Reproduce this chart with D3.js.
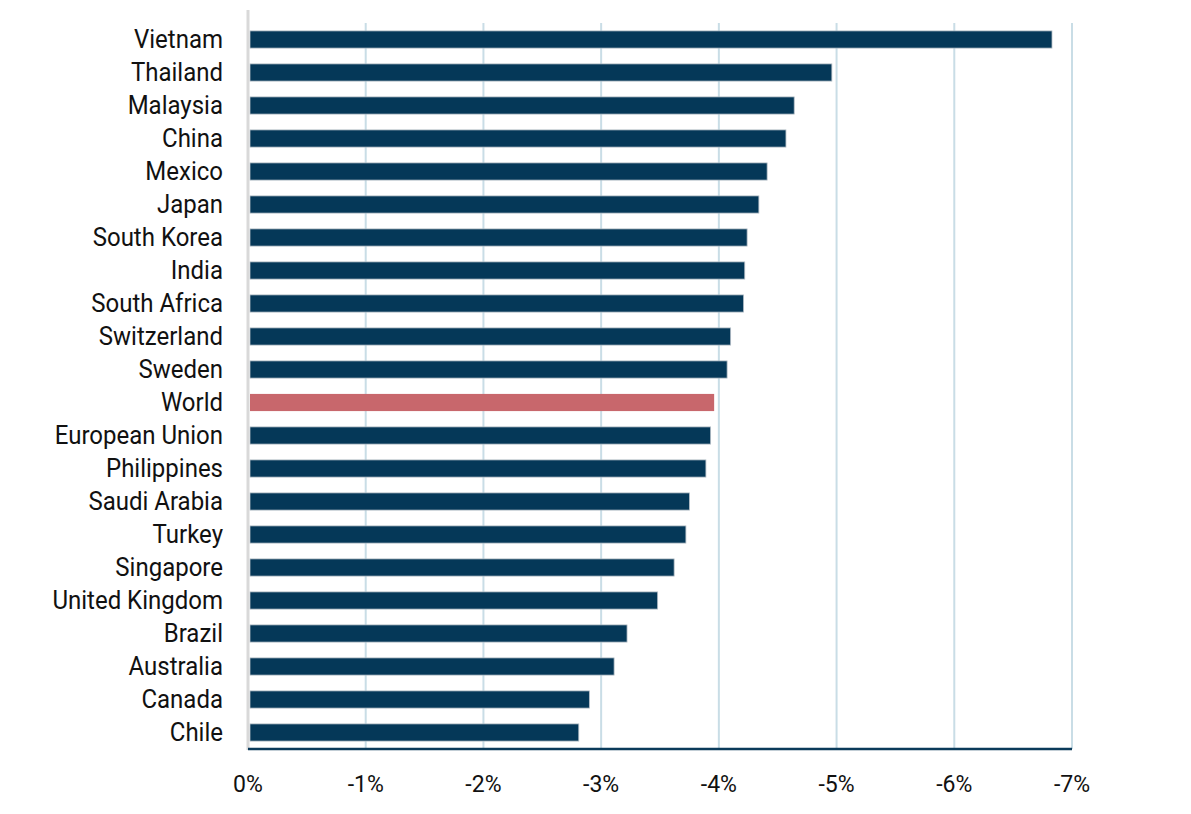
<!DOCTYPE html>
<html>
<head>
<meta charset="utf-8">
<script src="https://cdn.jsdelivr.net/npm/d3@7"></script>
<style>
  body { margin: 0; background: #fff; }
  svg text { font-family: Roboto, "Liberation Sans", sans-serif; fill: #111; }
</style>
</head>
<body>
<svg id="chart" width="1191" height="814"></svg>
<script>
// countries, top to bottom
const countries = ["Vietnam", "Thailand", "Malaysia", "China", "Mexico", "Japan",
  "South Korea", "India", "South Africa", "Switzerland", "Sweden", "World",
  "European Union", "Philippines", "Saudi Arabia", "Turkey", "Singapore",
  "United Kingdom", "Brazil", "Australia", "Canada", "Chile"]
// change in percent
const values = [-6.83, -4.96, -4.64, -4.57, -4.41, -4.34, -4.24, -4.22, -4.21,
  -4.10, -4.07, -3.96, -3.93, -3.89, -3.75, -3.72, -3.62, -3.48, -3.22, -3.11,
  -2.90, -2.81]
const tickValues = [0, -1, -2, -3, -4, -5, -6, -7]

const data = countries.map((c, i) => ({ country: c, value: values[i] }))

const svg = d3.select("#chart")
const plotLeft = 248, plotRight = 1072, plotTop = 23, plotBottom = 749
// the original font is a bit narrower than Roboto
const squeeze = 0.96

// 0 on the left, -7% on the right
const xScale = d3.scaleLinear()
  .domain([0, -7])
  .range([plotLeft, plotRight])

const yScale = d3.scaleBand()
  .domain(countries)
  .range([plotTop, plotBottom])
  .paddingInner(0.48)
  .paddingOuter(0.24)

// grid lines
svg.append("g")
  .selectAll("line")
  .data(tickValues.slice(1))
  .enter()
  .append("line")
  .attr("x1", d => xScale(d))
  .attr("x2", d => xScale(d))
  .attr("y1", plotTop)
  .attr("y2", plotBottom)
  .attr("stroke", "#c9dde6")
  .attr("stroke-width", 2)

// bars
svg.append("g")
  .selectAll("rect")
  .data(data)
  .enter()
  .append("rect")
  .attr("x", xScale(0) + 2)
  .attr("y", d => yScale(d.country))
  .attr("width", d => xScale(d.value) - xScale(0) - 2)
  .attr("height", yScale.bandwidth())
  .attr("fill", d => d.country == "World" ? "#c8676c" : "#053858")
  .attr("stroke", d => d.country == "World" ? "none" : "#b4bec6")
  .attr("stroke-width", 0.8)

// left axis line
svg.append("line")
  .attr("x1", plotLeft).attr("x2", plotLeft)
  .attr("y1", plotTop - 13).attr("y2", plotBottom + 1)
  .attr("stroke", "#d9d9d9")
  .attr("stroke-width", 3)

// bottom axis line
svg.append("line")
  .attr("x1", plotLeft).attr("x2", xScale(-7))
  .attr("y1", plotBottom).attr("y2", plotBottom)
  .attr("stroke", "#0a3a5a")
  .attr("stroke-width", 2.5)

// category labels
svg.append("g")
  .selectAll("text")
  .data(countries)
  .enter()
  .append("text")
  .attr("transform", d => `translate(223, ${yScale(d) + yScale.bandwidth() / 2}) scale(${squeeze}, 1)`)
  .attr("dy", "0.32em")
  .attr("text-anchor", "end")
  .attr("font-size", 25)
  .text(d => d)

// tick labels
svg.append("g")
  .selectAll("text")
  .data(tickValues)
  .enter()
  .append("text")
  .attr("transform", d => `translate(${xScale(d)}, 792) scale(${squeeze}, 1)`)
  .attr("text-anchor", "middle")
  .attr("font-size", 24)
  .text(d => (d == 0 ? "0" : d) + "%")
</script>
</body>
</html>
